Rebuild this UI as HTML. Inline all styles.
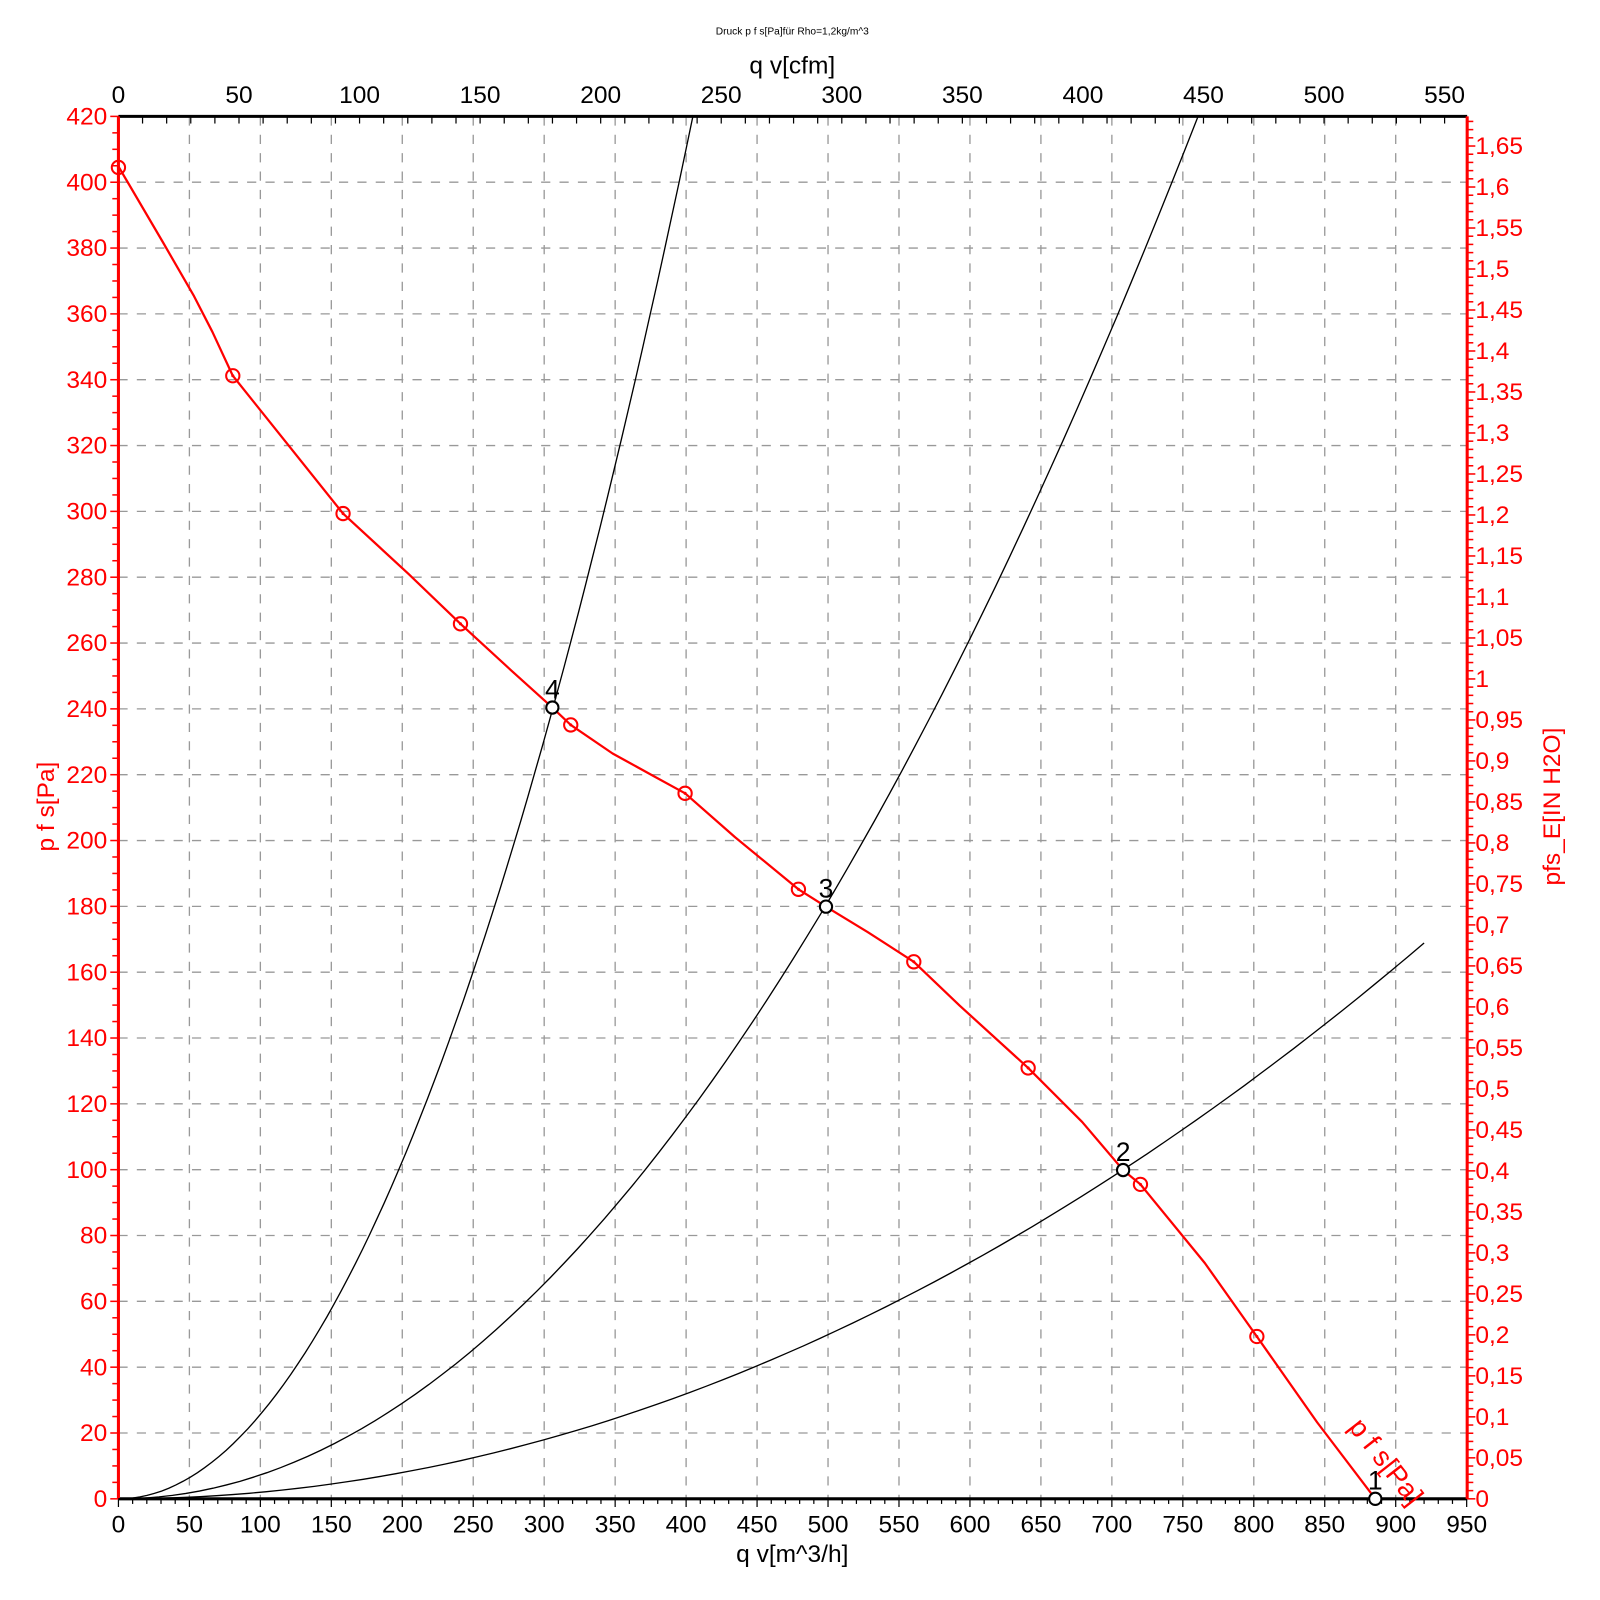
<!DOCTYPE html>
<html><head><meta charset="utf-8"><style>
html,body{margin:0;padding:0;background:#fff;}
svg{display:block;font-family:"Liberation Sans",Arial,sans-serif;}
</style></head><body>
<svg width="1600" height="1600" xmlns="http://www.w3.org/2000/svg"><g id="s" transform="scale(1.021)"></g></svg>
<script>
const s=document.getElementById('s');
const X0=116,XS=1320.5/950,Y0=1468,YS=1354/420;
const px=q=>X0+q*XS, py=p=>Y0-p*YS;
let h='';
for(let q=50;q<=900;q+=50)h+=`<line x1="${px(q)}" y1="114" x2="${px(q)}" y2="1468" stroke="#999" stroke-width="1.3" stroke-dasharray="9,9"/>`;
for(let p=20;p<=400;p+=20)h+=`<line x1="116" y1="${py(p)}" x2="1437" y2="${py(p)}" stroke="#999" stroke-width="1.3" stroke-dasharray="9,9"/>`;
h+=`<line x1="116" y1="1468" x2="1437" y2="1468" stroke="#000" stroke-width="3"/>`;
for(let q=0;q<=950;q+=10){const big=q%50==0;h+=`<line x1="${px(q)}" y1="1468" x2="${px(q)}" y2="${1468+(big?8:5)}" stroke="#000" stroke-width="1.2"/>`;}
for(let q=0;q<=950;q+=50)h+=`<text x="${px(q)}" y="1501" font-size="24" text-anchor="middle">${q}</text>`;
h+=`<text x="776" y="1530" font-size="24" text-anchor="middle">q v[m^3/h]</text>`;
h+=`<line x1="116" y1="114" x2="1437" y2="114" stroke="#000" stroke-width="3"/>`;
for(let c=0;c<=550;c+=10){const x=px(c*1.699);h+=`<line x1="${x}" y1="114" x2="${x}" y2="121" stroke="#000" stroke-width="1.2"/>`;}
for(let c=0;c<=550;c+=50)h+=`<text x="${px(c*1.699)}" y="101" font-size="24" text-anchor="middle">${c}</text>`;
h+=`<text x="776" y="72" font-size="24" text-anchor="middle">q v[cfm]</text>`;
h+=`<text x="776" y="34" font-size="10" text-anchor="middle">Druck p f s[Pa]für Rho=1,2kg/m^3</text>`;
h+=`<line x1="116" y1="114" x2="116" y2="1468" stroke="red" stroke-width="3"/>`;
for(let p=0;p<=420;p+=5){const big=p%20==0;h+=`<line x1="116" y1="${py(p)}" x2="${116-(big?8:6)}" y2="${py(p)}" stroke="red" stroke-width="1.5"/>`;}
for(let p=0;p<=420;p+=20)h+=`<text x="105" y="${py(p)+8}" font-size="24" fill="red" text-anchor="end">${p}</text>`;
h+=`<text transform="translate(53,790) rotate(-90)" font-size="24" fill="red" text-anchor="middle">p f s[Pa]</text>`;
h+=`<line x1="1437" y1="114" x2="1437" y2="1468" stroke="red" stroke-width="3"/>`;
for(let i=0;i<=168;i++){const p=i*0.01*249.09;const y=py(p);if(y<114)break;const big=i%5==0;h+=`<line x1="1437" y1="${y}" x2="${1437+(big?8:6)}" y2="${y}" stroke="red" stroke-width="1.5"/>`;}
for(let i=0;i<=165;i+=5){const v=i/100;const y=py(v*249.09);let t=String(v).replace('.',',');h+=`<text x="1445" y="${y+8}" font-size="24" fill="red">${t}</text>`;}
h+=`<text transform="translate(1528,790) rotate(-90)" font-size="24" fill="red" text-anchor="middle">pfs_E[IN H2O]</text>`;
function para(q1,p1,qmax){let d='';for(let i=0;i<=80;i++){const q=qmax*i/80;const p=p1*(q/q1)**2;d+=(i?'L':'M')+px(q).toFixed(1)+' '+py(p).toFixed(1);}return `<path d="${d}" fill="none" stroke="#000" stroke-width="1.3"/>`;}
h+=para(306,240,405);h+=para(498,180,761);h+=para(708,100,920);
const pts=[[116,163],[160,238],[190,290],[208,325],[228,368],[280,433],[336,503],[400,562],[451,611],[500,656],[541,693],[559,710],[600,738],[640,760],[671,777],[720,820],[782,871],[809,888],[850,913],[895,942],[940,985],[1007,1046],[1060,1099],[1100,1146],[1117,1160],[1180,1237],[1231,1309],[1290,1393],[1347,1468]];
h+=`<polyline points="${pts.map(p=>p.join(',')).join(' ')}" fill="none" stroke="red" stroke-width="2.2" stroke-linejoin="round"/>`;
[[116,164],[228,368],[336,503],[451,611],[559,710],[671,777],[782,871],[895,942],[1007,1046],[1117,1160],[1231,1309]].forEach(p=>{h+=`<circle cx="${p[0]}" cy="${p[1]}" r="6.5" fill="none" stroke="red" stroke-width="2"/><circle cx="${p[0]}" cy="${p[1]}" r="1.5" fill="red"/>`;});
[[541,693,'4'],[809,888,'3'],[1100,1146,'2'],[1347,1468,'1']].forEach(p=>{h+=`<circle cx="${p[0]}" cy="${p[1]}" r="6" fill="#fff" stroke="#000" stroke-width="2"/><text x="${p[0]}" y="${p[1]-9}" font-size="26" text-anchor="middle">${p[2]}</text>`;});
h+=`<text transform="translate(1320,1398) rotate(52)" font-size="27" fill="red">p f s[Pa]</text>`;
s.innerHTML=h;
</script>
</body></html>
